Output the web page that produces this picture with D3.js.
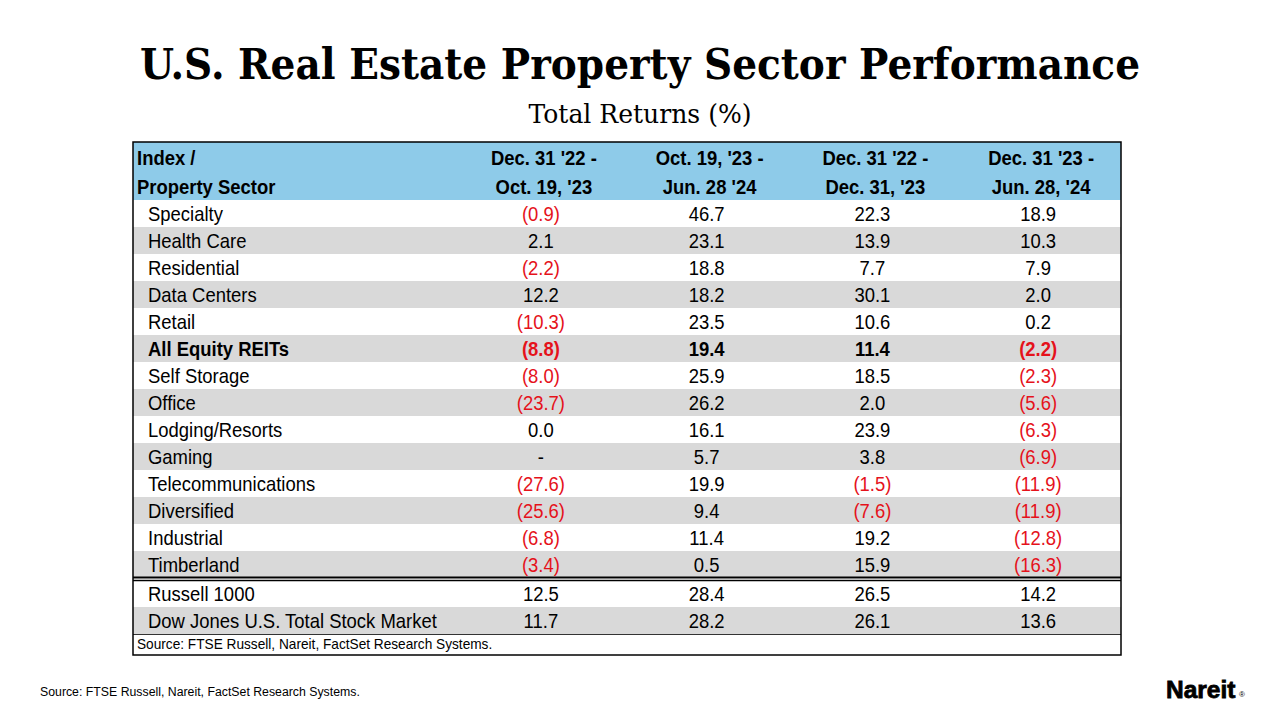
<!DOCTYPE html>
<html>
<head>
<meta charset="utf-8">
<script src="https://cdn.jsdelivr.net/npm/d3@7"></script>
<style>
  body { margin: 0; background: #fff; }
  svg { display: block; }
</style>
</head>
<body>
<div id="chart"></div>
<script>
// Table content
const columns = ["Dec. 31 '22 -|Oct. 19, '23", "Oct. 19, '23 -|Jun. 28 '24", "Dec. 31 '22 -|Dec. 31, '23", "Dec. 31 '23 -|Jun. 28, '24"];
const sectors = ["Specialty", "Health Care", "Residential", "Data Centers", "Retail", "All Equity REITs",
    "Self Storage", "Office", "Lodging/Resorts", "Gaming", "Telecommunications", "Diversified",
    "Industrial", "Timberland"];
const benchmarks = ["Russell 1000", "Dow Jones U.S. Total Stock Market"];
const boldRow = "All Equity REITs";

// one array per period, sectors first, then benchmarks (null = "-")
const period1 = [-0.9, 2.1, -2.2, 12.2, -10.3, -8.8, -8.0, -23.7, 0.0, null, -27.6, -25.6, -6.8, -3.4, 12.5, 11.7];
const period2 = [46.7, 23.1, 18.8, 18.2, 23.5, 19.4, 25.9, 26.2, 16.1, 5.7, 19.9, 9.4, 11.4, 0.5, 28.4, 28.2];
const period3 = [22.3, 13.9, 7.7, 30.1, 10.6, 11.4, 18.5, 2.0, 23.9, 3.8, -1.5, -7.6, 19.2, 15.9, 26.5, 26.1];
const period4 = [18.9, 10.3, 7.9, 2.0, 0.2, -2.2, -2.3, -5.6, -6.3, -6.9, -11.9, -11.9, -12.8, -16.3, 14.2, 13.6];
const periods = [period1, period2, period3, period4];

const title = "U.S. Real Estate Property Sector Performance";
const subtitle = "Total Returns (%)";
const sourceText = "Source: FTSE Russell, Nareit, FactSet Research Systems.";

const width = 1280, height = 720;
const table = { left: 133, right: 1121, top: 142, bottom: 655, labelRight: 458 };
const sx = 0.9; // the table font is slightly condensed
const red = '#e5121b', gray = '#d9d9d9', blue = '#8ecbe9';

const svg = d3.select('#chart').append('svg')
    .attr('width', width)
    .attr('height', height);

// Title block
svg.append('text')
    .attr('x', width / 2).attr('y', 79)
    .attr('text-anchor', 'middle')
    .attr('font-family', 'DejaVu Serif, serif')
    .attr('font-weight', 'bold')
    .attr('font-size', 43)
    .attr('textLength', 1000)
    .attr('lengthAdjust', 'spacingAndGlyphs')
    .text(title);

svg.append('text')
    .attr('x', width / 2).attr('y', 123)
    .attr('text-anchor', 'middle')
    .attr('font-family', 'DejaVu Serif, serif')
    .attr('font-size', 26)
    .attr('textLength', 223)
    .attr('lengthAdjust', 'spacingAndGlyphs')
    .text(subtitle);

// Scales
const x = d3.scaleBand().domain(d3.range(columns.length)).range([table.labelRight, table.right]);
const ySector = d3.scaleBand().domain(sectors).range([200, 578]);
const yBench = d3.scaleBand().domain(benchmarks).range([580, 634]);

const fmt = v => v == null ? '-' : (v < 0 ? `(${d3.format('.1f')(-v)})` : d3.format('.1f')(v));

function addText(g, px, py, str, opts = {}) {
    return g.append('text')
        .attr('transform', `translate(${px},${py}) scale(${sx},1)`)
        .attr('text-anchor', opts.anchor || 'start')
        .attr('font-family', 'Liberation Sans, Arial, sans-serif')
        .attr('font-size', opts.size || 20.5)
        .attr('font-weight', opts.bold ? 'bold' : 'normal')
        .attr('fill', opts.fill || '#000')
        .text(str);
}

const g = svg.append('g');

// Header band
g.append('rect')
    .attr('x', table.left).attr('y', table.top)
    .attr('width', table.right - table.left).attr('height', 200 - table.top)
    .attr('fill', blue);

addText(g, 137, 165, 'Index /', { bold: true });
addText(g, 137, 194, 'Property Sector', { bold: true });
columns.forEach((c, i) => {
    const [l1, l2] = c.split('|');
    const cx = x(i) + x.bandwidth() / 2 + 3;
    addText(g, cx, 165, l1, { bold: true, anchor: 'middle' });
    addText(g, cx, 194, l2, { bold: true, anchor: 'middle' });
});

// Body rows
function drawRows(names, y, offset) {
    names.forEach((name, r) => {
        const y0 = y(name);
        const idx = r + offset;
        if (r % 2 === 1) {
            g.append('rect')
                .attr('x', table.left).attr('y', y0)
                .attr('width', table.right - table.left).attr('height', y.bandwidth())
                .attr('fill', gray);
        }
        const base = y0 + y.bandwidth() / 2 + 7.5;
        const bold = name === boldRow;
        addText(g, 148, base, name, { bold });
        periods.forEach((p, i) => {
            const v = p[idx];
            addText(g, x(i) + x.bandwidth() / 2, base, fmt(v), {
                bold, anchor: 'middle', fill: v != null && v < 0 ? red : '#000'
            });
        });
    });
}
drawRows(sectors, ySector, 0);
drawRows(benchmarks, yBench, sectors.length);

// Double rule between sectors and benchmarks
g.append('line')
    .attr('x1', table.left).attr('x2', table.right)
    .attr('y1', 577.5).attr('y2', 577.5)
    .attr('stroke', '#000').attr('stroke-width', 2);
g.append('line')
    .attr('x1', table.left).attr('x2', table.right)
    .attr('y1', 580.5).attr('y2', 580.5)
    .attr('stroke', '#000').attr('stroke-width', 1.3);
// rule above the source line
g.append('line')
    .attr('x1', table.left).attr('x2', table.right)
    .attr('y1', 634.5).attr('y2', 634.5)
    .attr('stroke', '#333').attr('stroke-width', 1);

addText(g, 137, 649, sourceText, { size: 15.2 });

// Outer frame
g.append('rect')
    .attr('x', table.left).attr('y', table.top)
    .attr('width', table.right - table.left).attr('height', table.bottom - table.top)
    .attr('fill', 'none')
    .attr('stroke', '#000').attr('stroke-width', 1.5);

// Footer
svg.append('text')
    .attr('x', 40).attr('y', 696)
    .attr('font-family', 'Liberation Sans, Arial, sans-serif')
    .attr('font-size', 12.3)
    .text(sourceText);

const logo = svg.append('g').attr('transform', 'translate(1166,698)');
logo.append('text')
    .attr('font-family', 'Liberation Sans, Arial, sans-serif')
    .attr('font-weight', 'bold')
    .attr('font-size', 24.5)
    .attr('stroke', '#000').attr('stroke-width', 0.8)
    .text('Nareit');
logo.append('text')
    .attr('x', 73).attr('y', -1)
    .attr('font-family', 'Liberation Sans, Arial, sans-serif')
    .attr('font-size', 8)
    .text('®');
</script>
</body>
</html>
